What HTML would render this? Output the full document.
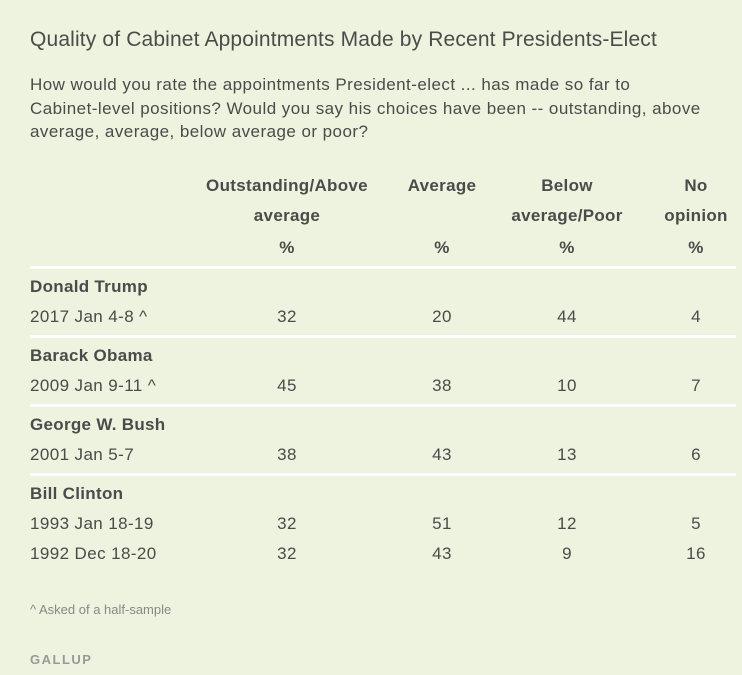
<!DOCTYPE html>
<html><head><meta charset="utf-8"><style>
body{margin:0;width:742px;height:675px;background:#edf3de;font-family:"Liberation Sans",sans-serif;color:#4b4b4b;position:relative;overflow:hidden}
.a{position:absolute;white-space:nowrap}
.c{transform:translateX(-50%);text-align:center}
.b{font-weight:bold;letter-spacing:0.3px}
.t{font-size:17px;letter-spacing:0.4px}
.b.t{letter-spacing:0.3px}
.sep{position:absolute;left:30px;width:706px;height:3px;background:#fff}
</style></head><body>
<div class="a" style="left:30px;top:28px;font-size:21px;letter-spacing:0.15px">Quality of Cabinet Appointments Made by Recent Presidents-Elect</div>
<div class="a" style="left:30px;top:73px;font-size:17px;letter-spacing:0.45px;line-height:23.5px">How would you rate the appointments President-elect ... has made so far to<br>Cabinet-level positions? Would you say his choices have been -- outstanding, above<br>average, average, below average or poor?</div>
<div class="a c b t" style="left:287px;top:171px;line-height:30px">Outstanding/Above<br>average</div>
<div class="a c b t" style="left:442px;top:171px;line-height:30px">Average</div>
<div class="a c b t" style="left:567px;top:171px;line-height:30px">Below<br>average/Poor</div>
<div class="a c b t" style="left:696px;top:171px;line-height:30px">No<br>opinion</div>
<div class="a c b t" style="left:287px;top:238px">%</div>
<div class="a c b t" style="left:442px;top:238px">%</div>
<div class="a c b t" style="left:567px;top:238px">%</div>
<div class="a c b t" style="left:696px;top:238px">%</div>
<div id="rows"></div>
<div class="a" style="left:30px;top:602px;font-size:13px;color:#888">^ Asked of a half-sample</div>
<div class="a b" style="left:30px;top:652px;font-size:13px;color:#999;letter-spacing:1.5px">GALLUP</div>
<script>
const names=["Donald Trump","Barack Obama","George W. Bush","Bill Clinton"];
const dates=[["2017 Jan 4-8 ^"],["2009 Jan 9-11 ^"],["2001 Jan 5-7"],["1993 Jan 18-19","1992 Dec 18-20"]];
const outstanding=[[32],[45],[38],[32,32]];
const average=[[20],[38],[43],[51,43]];
const below=[[44],[10],[13],[12,9]];
const noOpinion=[[4],[7],[6],[5,16]];
const cols=[287,442,567,696];
const root=document.getElementById('rows');
let y=266;
names.forEach((n,i)=>{
  const s=document.createElement('div');s.className='sep';s.style.top=y+'px';
  
  
  root.appendChild(s);
  const h=document.createElement('div');h.className='a b t';h.style.left='30px';h.style.top=(y+11)+'px';h.textContent=n;
  
  
  root.appendChild(h);
  dates[i].forEach((d,j)=>{
    const ty=y+41+j*30;
    const dd=document.createElement('div');dd.className='a t';dd.style.left='30px';dd.style.top=ty+'px';dd.textContent=d;
    
    
    root.appendChild(dd);
    [outstanding,average,below,noOpinion].forEach((arr,k)=>{
      const v=document.createElement('div');v.className='a c t';v.style.left=cols[k]+'px';v.style.top=ty+'px';v.textContent=arr[i][j];
      
      
      root.appendChild(v);
    });
  });
  y+=11+30*(1+dates[i].length)+ (dates[i].length>1?0:-2);
});
</script>
</body></html>
